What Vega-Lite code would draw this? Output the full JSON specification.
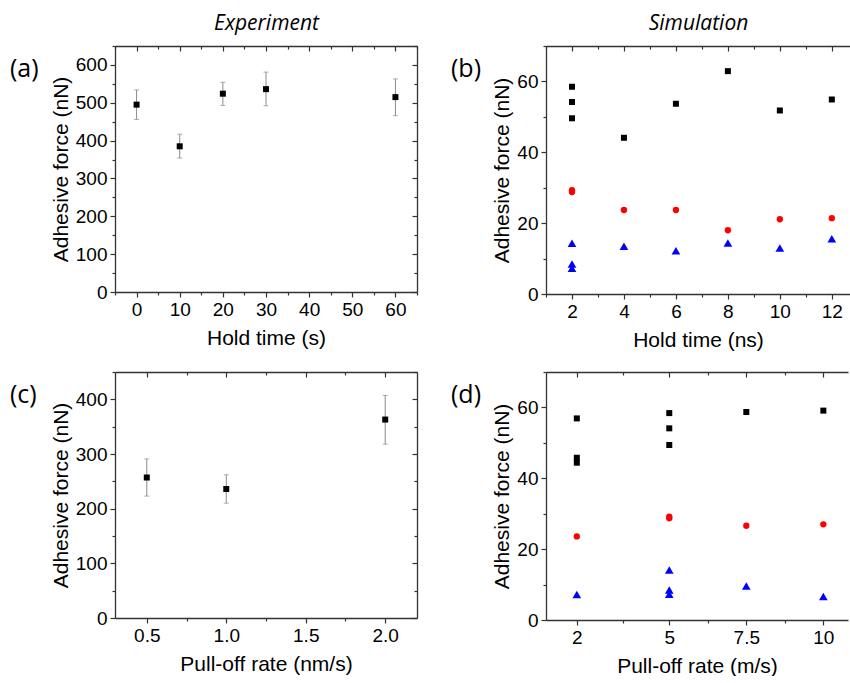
{
  "$schema": "https://vega.github.io/schema/vega-lite/v6.json",
  "padding": {"left": 10, "top": 12, "right": 0, "bottom": 0},
  "background": "white",
  "datasets": {
    "a": [
      {"t": 0, "f": 495, "lo": 456, "hi": 534},
      {"t": 10, "f": 385, "lo": 354, "hi": 417},
      {"t": 20, "f": 524, "lo": 493, "hi": 554},
      {"t": 30, "f": 536, "lo": 492, "hi": 581},
      {"t": 60, "f": 515, "lo": 466, "hi": 563}
    ],
    "b": [
      {"t": 2, "f": 58.5, "s": "sq"}, {"t": 2, "f": 54.2, "s": "sq"}, {"t": 2, "f": 49.6, "s": "sq"},
      {"t": 4, "f": 44.1, "s": "sq"}, {"t": 6, "f": 53.7, "s": "sq"}, {"t": 8, "f": 62.9, "s": "sq"},
      {"t": 10, "f": 51.8, "s": "sq"}, {"t": 12, "f": 54.9, "s": "sq"},
      {"t": 2, "f": 29.3, "s": "ci"}, {"t": 2, "f": 28.8, "s": "ci"}, {"t": 4, "f": 23.7, "s": "ci"},
      {"t": 6, "f": 23.7, "s": "ci"}, {"t": 8, "f": 18.0, "s": "ci"}, {"t": 10, "f": 21.1, "s": "ci"},
      {"t": 12, "f": 21.4, "s": "ci"},
      {"t": 2, "f": 14.3, "s": "tr"}, {"t": 2, "f": 8.5, "s": "tr"}, {"t": 2, "f": 7.3, "s": "tr"},
      {"t": 4, "f": 13.5, "s": "tr"}, {"t": 6, "f": 12.2, "s": "tr"}, {"t": 8, "f": 14.4, "s": "tr"},
      {"t": 10, "f": 13.0, "s": "tr"}, {"t": 12, "f": 15.6, "s": "tr"}
    ],
    "c": [
      {"r": 0.5, "f": 257, "lo": 223, "hi": 291},
      {"r": 1.0, "f": 236, "lo": 210, "hi": 262},
      {"r": 2.0, "f": 363, "lo": 318, "hi": 407}
    ],
    "d": [
      {"r": 2, "f": 56.9, "s": "sq"}, {"r": 2, "f": 45.8, "s": "sq"}, {"r": 2, "f": 44.4, "s": "sq"},
      {"r": 5, "f": 58.4, "s": "sq"}, {"r": 5, "f": 54.1, "s": "sq"}, {"r": 5, "f": 49.4, "s": "sq"},
      {"r": 7.5, "f": 58.7, "s": "sq"}, {"r": 10, "f": 59.1, "s": "sq"},
      {"r": 2, "f": 23.6, "s": "ci"}, {"r": 5, "f": 29.2, "s": "ci"}, {"r": 5, "f": 28.7, "s": "ci"},
      {"r": 7.5, "f": 26.6, "s": "ci"}, {"r": 10, "f": 27.0, "s": "ci"},
      {"r": 2, "f": 7.2, "s": "tr"}, {"r": 5, "f": 14.1, "s": "tr"}, {"r": 5, "f": 8.5, "s": "tr"},
      {"r": 5, "f": 7.3, "s": "tr"}, {"r": 7.5, "f": 9.6, "s": "tr"}, {"r": 10, "f": 6.6, "s": "tr"}
    ]
  },
  "columns": 2,
  "align": "each",
  "spacing": {"row": 13, "column": 33},
  "concat": [
    {
      "data": {"name": "a"},
      "width": 302, "height": 246,
      "title": {"text": "(a)", "dx": -105, "dy": 74},
      "layer": [
        {
          "mark": {"type": "errorbar", "ticks": {"size": 5, "color": "#8c8c8c"}, "rule": {"color": "#8c8c8c"}},
          "encoding": {
            "x": {"field": "t", "type": "quantitative", "scale": {"domain": [-5, 65], "nice": false, "zero": false}, "axis": null},
            "y": {"field": "lo", "type": "quantitative", "scale": {"domain": [0, 650], "nice": false}, "axis": null},
            "y2": {"field": "hi"}
          }
        },
        {
          "mark": {"type": "point", "shape": "square", "filled": true, "size": 36, "color": "#000000", "opacity": 1},
          "encoding": {
            "x": {"field": "t", "type": "quantitative", "scale": {"domain": [-5, 65], "nice": false, "zero": false},
              "axis": {"orient": "bottom", "values": [-5, 0, 5, 10, 15, 20, 25, 30, 35, 40, 45, 50, 55, 60, 65],
                "labelExpr": "datum.value % 10 === 0 ? datum.label : ''",
                "tickSize": {"condition": {"test": "datum.value % 10 !== 0", "value": 3}, "value": 5},
                "title": "Hold time (s)", "titlePadding": 8}},
            "y": {"field": "f", "type": "quantitative", "scale": {"domain": [0, 650], "nice": false},
              "axis": {"orient": "left", "values": [0, 50, 100, 150, 200, 250, 300, 350, 400, 450, 500, 550, 600, 650],
                "labelExpr": "datum.value % 100 === 0 ? datum.label : ''",
                "tickSize": {"condition": {"test": "datum.value % 100 !== 0", "value": 3}, "value": 5},
                "title": "Adhesive force (nN)", "titlePadding": 4}}
          }
        },
        {
          "mark": {"type": "point", "opacity": 0},
          "encoding": {
            "x": {"field": "t", "type": "quantitative", "scale": {"domain": [-5, 65], "nice": false, "zero": false},
              "axis": {"orient": "top", "values": [-5, 0, 5, 10, 15, 20, 25, 30, 35, 40, 45, 50, 55, 60, 65], "labels": false,
                "tickSize": {"condition": {"test": "datum.value % 10 !== 0", "value": -3}, "value": -5},
                "title": "Experiment", "titleFont": "Open Sans", "titleFontStyle": "italic", "titleFontSize": 21, "titlePadding": 12}},
            "y": {"field": "f", "type": "quantitative", "scale": {"domain": [0, 650], "nice": false},
              "axis": {"orient": "right", "values": [0, 50, 100, 150, 200, 250, 300, 350, 400, 450, 500, 550, 600, 650], "labels": false,
                "tickSize": {"condition": {"test": "datum.value % 100 !== 0", "value": -3}, "value": -5}, "title": null}}
          }
        }
      ],
      "resolve": {"axis": {"x": "independent", "y": "independent"}}
    },
    {
      "data": {"name": "b"},
      "width": 304, "height": 248,
      "title": {"text": "(b)", "dx": -95, "dy": 74},
      "layer": [
        {
          "transform": [{"filter": "datum.s === 'sq'"}],
          "mark": {"type": "point", "shape": "square", "filled": true, "size": 36, "color": "#000000", "opacity": 1},
          "encoding": {
            "x": {"field": "t", "type": "quantitative", "scale": {"domain": [1, 12.7], "nice": false, "zero": false},
              "axis": {"orient": "bottom", "values": [1, 2, 3, 4, 5, 6, 7, 8, 9, 10, 11, 12],
                "labelExpr": "datum.value % 2 === 0 ? datum.label : ''",
                "tickSize": {"condition": {"test": "datum.value % 2 !== 0", "value": 3}, "value": 5},
                "title": "Hold time (ns)", "titlePadding": 8}},
            "y": {"field": "f", "type": "quantitative", "scale": {"domain": [0, 70], "nice": false},
              "axis": {"orient": "left", "values": [0, 10, 20, 30, 40, 50, 60, 70],
                "labelExpr": "datum.value % 20 === 0 ? datum.label : ''",
                "tickSize": {"condition": {"test": "datum.value % 20 !== 0", "value": 3}, "value": 5},
                "title": "Adhesive force (nN)", "titlePadding": 4}}
          }
        },
        {
          "transform": [{"filter": "datum.s === 'ci'"}],
          "mark": {"type": "point", "shape": "circle", "filled": true, "size": 40, "color": "#ff0000", "opacity": 1},
          "encoding": {
            "x": {"field": "t", "type": "quantitative", "scale": {"domain": [1, 12.7], "nice": false, "zero": false}, "axis": null},
            "y": {"field": "f", "type": "quantitative", "scale": {"domain": [0, 70], "nice": false}, "axis": null}
          }
        },
        {
          "transform": [{"filter": "datum.s === 'tr'"}],
          "mark": {"type": "point", "shape": "triangle-up", "filled": true, "size": 75, "color": "#0000ff", "opacity": 1},
          "encoding": {
            "x": {"field": "t", "type": "quantitative", "scale": {"domain": [1, 12.7], "nice": false, "zero": false}, "axis": null},
            "y": {"field": "f", "type": "quantitative", "scale": {"domain": [0, 70], "nice": false}, "axis": null}
          }
        },
        {
          "mark": {"type": "point", "opacity": 0},
          "encoding": {
            "x": {"field": "t", "type": "quantitative", "scale": {"domain": [1, 12.7], "nice": false, "zero": false},
              "axis": {"orient": "top", "values": [1, 2, 3, 4, 5, 6, 7, 8, 9, 10, 11, 12], "labels": false,
                "tickSize": {"condition": {"test": "datum.value % 2 !== 0", "value": -3}, "value": -5},
                "title": "Simulation", "titleFont": "Open Sans", "titleFontStyle": "italic", "titleFontSize": 21, "titlePadding": 12}},
            "y": {"field": "f", "type": "quantitative", "scale": {"domain": [0, 70], "nice": false}, "axis": null}
          }
        }
      ],
      "resolve": {"axis": {"x": "independent", "y": "independent"}}
    },
    {
      "data": {"name": "c"},
      "width": 302, "height": 246,
      "title": {"text": "(c)", "dx": -105, "dy": 49},
      "layer": [
        {
          "mark": {"type": "errorbar", "ticks": {"size": 5, "color": "#8c8c8c"}, "rule": {"color": "#8c8c8c"}},
          "encoding": {
            "x": {"field": "r", "type": "quantitative", "scale": {"domain": [0.3, 2.2], "nice": false, "zero": false}, "axis": null},
            "y": {"field": "lo", "type": "quantitative", "scale": {"domain": [0, 450], "nice": false}, "axis": null},
            "y2": {"field": "hi"}
          }
        },
        {
          "mark": {"type": "point", "shape": "square", "filled": true, "size": 36, "color": "#000000", "opacity": 1},
          "encoding": {
            "x": {"field": "r", "type": "quantitative", "scale": {"domain": [0.3, 2.2], "nice": false, "zero": false},
              "axis": {"orient": "bottom", "values": [0.5, 0.75, 1, 1.25, 1.5, 1.75, 2],
                "labelExpr": "datum.value % 0.5 === 0 ? format(datum.value, '.1f') : ''",
                "tickSize": {"condition": {"test": "datum.value % 0.5 !== 0", "value": 3}, "value": 5},
                "title": "Pull-off rate (nm/s)", "titlePadding": 8}},
            "y": {"field": "f", "type": "quantitative", "scale": {"domain": [0, 450], "nice": false},
              "axis": {"orient": "left", "values": [0, 50, 100, 150, 200, 250, 300, 350, 400, 450],
                "labelExpr": "datum.value % 100 === 0 ? datum.label : ''",
                "tickSize": {"condition": {"test": "datum.value % 100 !== 0", "value": 3}, "value": 5},
                "title": "Adhesive force (nN)", "titlePadding": 4}}
          }
        },
        {
          "mark": {"type": "point", "opacity": 0},
          "encoding": {
            "x": {"field": "r", "type": "quantitative", "scale": {"domain": [0.3, 2.2], "nice": false, "zero": false},
              "axis": {"orient": "top", "values": [0.5, 0.75, 1, 1.25, 1.5, 1.75, 2], "labels": false,
                "tickSize": {"condition": {"test": "datum.value % 0.5 !== 0", "value": -3}, "value": -5}, "title": null}},
            "y": {"field": "f", "type": "quantitative", "scale": {"domain": [0, 450], "nice": false},
              "axis": {"orient": "right", "values": [0, 50, 100, 150, 200, 250, 300, 350, 400, 450], "labels": false,
                "tickSize": {"condition": {"test": "datum.value % 100 !== 0", "value": -3}, "value": -5}, "title": null}}
          }
        }
      ],
      "resolve": {"axis": {"x": "independent", "y": "independent"}}
    },
    {
      "data": {"name": "d"},
      "width": 302, "height": 248,
      "title": {"text": "(d)", "dx": -95, "dy": 49},
      "layer": [
        {
          "transform": [{"filter": "datum.s === 'sq'"}],
          "mark": {"type": "point", "shape": "square", "filled": true, "size": 36, "color": "#000000", "opacity": 1},
          "encoding": {
            "x": {"field": "r", "type": "quantitative", "scale": {"domain": [1, 10.8], "nice": false, "zero": false},
              "axis": {"orient": "bottom", "values": [2, 3.5, 5, 6.25, 7.5, 8.75, 10],
                "labelExpr": "indexof([3.5, 6.25, 8.75], datum.value) < 0 ? format(datum.value, '~g') : ''",
                "tickSize": {"condition": {"test": "indexof([3.5, 6.25, 8.75], datum.value) >= 0", "value": 3}, "value": 5},
                "title": "Pull-off rate (m/s)", "titlePadding": 8}},
            "y": {"field": "f", "type": "quantitative", "scale": {"domain": [0, 70], "nice": false},
              "axis": {"orient": "left", "values": [0, 10, 20, 30, 40, 50, 60, 70],
                "labelExpr": "datum.value % 20 === 0 ? datum.label : ''",
                "tickSize": {"condition": {"test": "datum.value % 20 !== 0", "value": 3}, "value": 5},
                "title": "Adhesive force (nN)", "titlePadding": 4}}
          }
        },
        {
          "transform": [{"filter": "datum.s === 'ci'"}],
          "mark": {"type": "point", "shape": "circle", "filled": true, "size": 40, "color": "#ff0000", "opacity": 1},
          "encoding": {
            "x": {"field": "r", "type": "quantitative", "scale": {"domain": [1, 10.8], "nice": false, "zero": false}, "axis": null},
            "y": {"field": "f", "type": "quantitative", "scale": {"domain": [0, 70], "nice": false}, "axis": null}
          }
        },
        {
          "transform": [{"filter": "datum.s === 'tr'"}],
          "mark": {"type": "point", "shape": "triangle-up", "filled": true, "size": 75, "color": "#0000ff", "opacity": 1},
          "encoding": {
            "x": {"field": "r", "type": "quantitative", "scale": {"domain": [1, 10.8], "nice": false, "zero": false}, "axis": null},
            "y": {"field": "f", "type": "quantitative", "scale": {"domain": [0, 70], "nice": false}, "axis": null}
          }
        },
        {
          "mark": {"type": "point", "opacity": 0},
          "encoding": {
            "x": {"field": "r", "type": "quantitative", "scale": {"domain": [1, 10.8], "nice": false, "zero": false},
              "axis": {"orient": "top", "values": [2, 3.5, 5, 6.25, 7.5, 8.75, 10], "labels": false,
                "tickSize": {"condition": {"test": "indexof([3.5, 6.25, 8.75], datum.value) >= 0", "value": -3}, "value": -5}, "title": null}},
            "y": {"field": "f", "type": "quantitative", "scale": {"domain": [0, 70], "nice": false}, "axis": null}
          }
        }
      ],
      "resolve": {"axis": {"x": "independent", "y": "independent"}}
    }
  ],
  "config": {
    "view": {"stroke": null},
    "axis": {
      "grid": false,
      "domainColor": "#333333", "domainWidth": 1.3,
      "tickColor": "#333333", "tickWidth": 1.2,
      "labelFont": "Liberation Sans", "labelFontSize": 19, "labelColor": "#000000", "labelPadding": 3,
      "labelOverlap": false, "labelFlush": false,
      "titleFont": "Liberation Sans", "titleFontSize": 21, "titleFontWeight": "normal", "titleColor": "#000000"
    },
    "title": {"font": "Open Sans", "fontSize": 25, "fontWeight": "normal", "anchor": "start", "frame": "group", "color": "#000000"}
  }
}
